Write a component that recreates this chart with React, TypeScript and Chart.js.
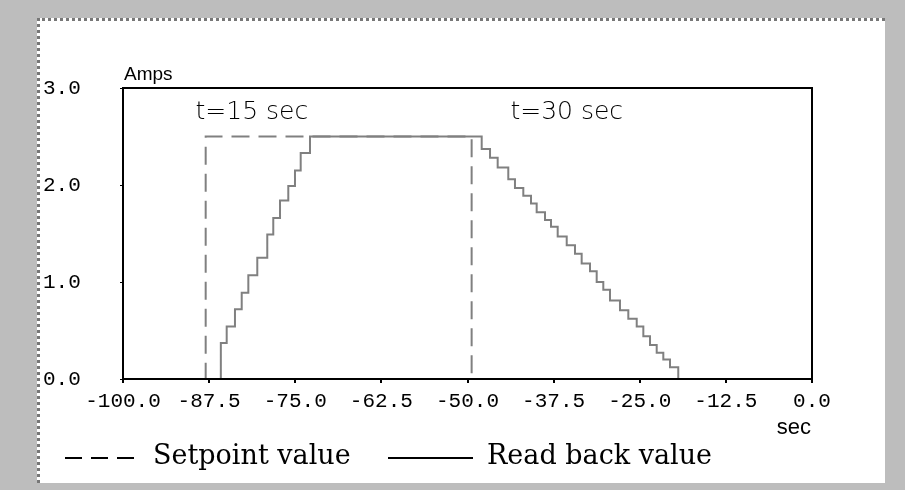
import React, { useEffect, useRef } from "react";
import { Chart, registerables } from "chart.js";

Chart.register(...registerables);

// ---- data ----
const setpointTimes = [-100, -88.0, -49.4, 0];
const setpointAmps = [0, 2.5, 0, 0];

const readbackTimes = [
  -100, -85.8, -84.95, -83.75, -82.77, -81.81, -80.51, -79.06, -78.19, -77.21,
  -76.01, -75.04, -74.21, -72.86,
  -47.94, -46.73, -45.62, -44.08, -43.11, -41.9, -40.78, -39.96, -38.75,
  -37.88, -36.91, -35.6, -34.4, -33.43, -32.22, -31.25, -30.29, -29.32,
  -27.87, -26.66, -25.44, -24.48, -23.51, -22.54, -21.58, -20.61, -19.41, 0,
];
const readbackAmps = [
  0, 0.37, 0.54, 0.72, 0.89, 1.07, 1.25, 1.49, 1.66, 1.84,
  1.99, 2.15, 2.33, 2.5,
  2.37, 2.28, 2.18, 2.06, 1.97, 1.89, 1.81, 1.72, 1.64,
  1.57, 1.47, 1.38, 1.29, 1.19, 1.11, 1.0, 0.92, 0.81,
  0.71, 0.62, 0.54, 0.44, 0.35, 0.27, 0.2, 0.12, 0, 0,
];

const xMin = -100;
const xMax = 0;
const xStep = 12.5;
const yMin = 0;
const yMax = 3;
const yStep = 1;

const annotationTexts = ["t=15 sec", "t=30 sec"];
const annotationTimes = [-81.3, -35.6];
const annotationAmps = [2.75, 2.75];

const yUnit = "Amps";
const xUnit = "sec";
const legendLabels = ["Setpoint value", "Read back value"];

const LINE_GRAY = "#808080";
const TICK_FONT = { family: "'Liberation Mono', monospace", size: 21 };

const overlayPlugin = {
  id: "overlay",
  afterDatasetsDraw(chart: any) {
    const { ctx, chartArea: a, scales } = chart;
    const x = scales.x;
    const y = scales.y;
    ctx.save();
    // plot frame
    ctx.strokeStyle = "#000";
    ctx.lineWidth = 2;
    ctx.setLineDash([]);
    ctx.strokeRect(a.left, a.top, a.right - a.left, a.bottom - a.top);

    // annotations
    ctx.fillStyle = "#000";
    ctx.font = "300 25px 'DejaVu Sans'";
    ctx.textAlign = "center";
    ctx.textBaseline = "middle";
    annotationTexts.forEach((t, i) => {
      ctx.fillText(t, x.getPixelForValue(annotationTimes[i]), y.getPixelForValue(annotationAmps[i]));
    });

    // unit labels
    ctx.textBaseline = "alphabetic";
    ctx.textAlign = "left";
    ctx.font = "19px 'Liberation Sans'";
    ctx.fillText(yUnit, a.left + 1, a.top - 8);
    ctx.textAlign = "right";
    ctx.font = "22px 'Liberation Sans'";
    ctx.fillText(xUnit, a.right - 1, a.bottom + 55);

    // legend
    const ly = 458;
    ctx.strokeStyle = "#000";
    ctx.lineWidth = 2;
    ctx.setLineDash([17, 9]);
    ctx.beginPath();
    ctx.moveTo(65, ly);
    ctx.lineTo(138, ly);
    ctx.stroke();
    ctx.setLineDash([]);
    ctx.beginPath();
    ctx.moveTo(388, ly);
    ctx.lineTo(473, ly);
    ctx.stroke();
    ctx.font = "27px 'DejaVu Serif'";
    ctx.textAlign = "left";
    ctx.textBaseline = "alphabetic";
    ctx.fillText(legendLabels[0], 153, 464);
    ctx.fillText(legendLabels[1], 487, 464);
    ctx.restore();
  },
};

export default function App() {
  const canvasRef = useRef<HTMLCanvasElement | null>(null);

  useEffect(() => {
    const canvas = canvasRef.current;
    if (!canvas) return;
    const chart = new Chart(canvas, {
      type: "line",
      data: {
        datasets: [
          {
            label: legendLabels[0],
            data: setpointTimes.map((t, i) => ({ x: t, y: setpointAmps[i] })),
            borderColor: LINE_GRAY,
            borderWidth: 2,
            borderDash: [18, 9],
            stepped: "before",
            pointRadius: 0,
            fill: false,
          },
          {
            label: legendLabels[1],
            data: readbackTimes.map((t, i) => ({ x: t, y: readbackAmps[i] })),
            borderColor: LINE_GRAY,
            borderWidth: 2,
            stepped: "before",
            pointRadius: 0,
            fill: false,
          },
        ],
      },
      options: {
        animation: false,
        responsive: false,
        devicePixelRatio: 1,
        layout: { padding: { left: 43, right: 93, top: 88, bottom: 0 } },
        plugins: {
          legend: { display: false },
          tooltip: { enabled: false },
          title: { display: false },
        },
        scales: {
          x: {
            type: "linear",
            min: xMin,
            max: xMax,
            border: { display: false },
            grid: {
              display: true,
              drawOnChartArea: false,
              drawTicks: true,
              tickLength: 4,
              color: "#000",
              lineWidth: 2,
            },
            ticks: {
              stepSize: xStep,
              autoSkip: false,
              maxRotation: 0,
              minRotation: 0,
              padding: 6,
              color: "#000",
              font: TICK_FONT,
              callback: (v: any) => Number(v).toFixed(1),
            },
            afterFit: (scale: any) => {
              scale.height = 111;
            },
          },
          y: {
            type: "linear",
            min: yMin,
            max: yMax,
            border: { display: false },
            grid: {
              display: true,
              drawOnChartArea: false,
              drawTicks: true,
              tickLength: 3,
              color: "#000",
              lineWidth: 1,
            },
            ticks: {
              stepSize: yStep,
              crossAlign: "far",
              color: "#000",
              font: TICK_FONT,
              callback: (v: any) => Number(v).toFixed(1),
            },
            afterFit: (scale: any) => {
              scale.width = 80;
            },
          },
        },
      },
      plugins: [overlayPlugin],
    } as any);
    return () => chart.destroy();
  }, []);

  return (
    <div
      style={{
        position: "fixed",
        left: 0,
        top: 0,
        width: 905,
        height: 490,
        background: "#bdbdbd",
        overflow: "hidden",
      }}
    >
      <div
        style={{
          position: "absolute",
          left: 37,
          top: 18,
          width: 848,
          height: 465,
          background: "#fff",
          boxSizing: "border-box",
          borderTop: "3px dotted #777",
          borderLeft: "3px dotted #777",
        }}
      />
      <canvas
        ref={canvasRef}
        width={905}
        height={490}
        style={{ position: "absolute", left: 0, top: 0, width: 905, height: 490 }}
      />
    </div>
  );
}
